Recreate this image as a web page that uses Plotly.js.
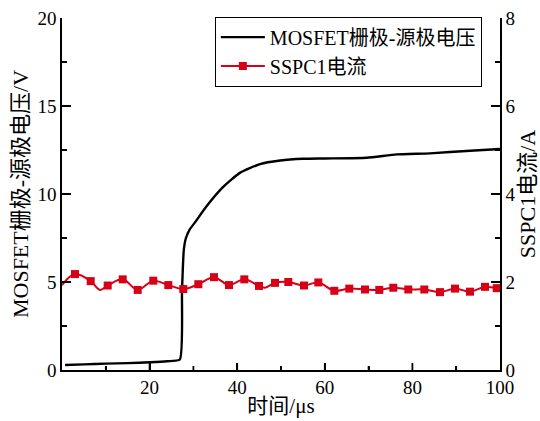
<!DOCTYPE html>
<html>
<head>
<meta charset="utf-8">
<script src="https://cdn.plot.ly/plotly-3.0.1.min.js"></script>
<style>html,body{margin:0;padding:0;background:#fff}#chart{width:540px;height:421px}</style>
</head>
<body>
<div id="chart"></div>
<script>
// Gate-source voltage (V)
const vgsTime = [0.7, 5, 10, 15, 20.1, 24, 26.9, 27.4, 27.8, 28.3, 29.2, 30.4, 33.0, 36.8, 40.6, 45.2, 49.8, 55, 60, 69.6, 76.4, 84, 93.2, 100];
const vgsValue = [0.28, 0.32, 0.36, 0.39, 0.44, 0.5, 0.6, 4.5, 6.8, 7.5, 8.0, 8.4, 9.3, 10.4, 11.2, 11.7, 11.9, 12.0, 12.02, 12.06, 12.25, 12.31, 12.46, 12.56];

// SSPC1 current (A) - marker samples
const iMarkTime = [2.97, 6.55, 10.43, 13.86, 17.28, 20.84, 24.27, 27.69, 31.12, 34.70, 38.13, 41.62, 44.98, 48.63, 51.67, 55.25, 58.52, 62.17, 65.59, 69.18, 72.44, 75.64, 79.06, 82.72, 86.30, 89.73, 93.15, 96.58, 99.25];
const iMarkValue = [2.18, 2.02, 1.92, 2.06, 1.82, 2.03, 1.93, 1.84, 1.95, 2.11, 1.93, 2.06, 1.91, 1.98, 2.0, 1.92, 1.99, 1.80, 1.85, 1.83, 1.82, 1.87, 1.83, 1.83, 1.77, 1.85, 1.78, 1.89, 1.86];
// SSPC1 current (A) - curve points (markers plus visible troughs)
const iLineTime = [0, 2.97, 6.55, 8.68, 10.43, 13.86, 17.28, 20.84, 24.27, 27.69, 31.12, 34.70, 38.13, 41.62, 44.98, 46.35, 48.63, 51.67, 55.25, 58.52, 62.17, 65.59, 69.18, 72.44, 75.64, 79.06, 82.72, 86.30, 89.73, 93.15, 96.58, 99.25, 100];
const iLineValue = [1.93, 2.18, 2.02, 1.82, 1.92, 2.06, 1.82, 2.03, 1.93, 1.84, 1.95, 2.11, 1.93, 2.06, 1.91, 1.87, 1.98, 2.0, 1.92, 1.99, 1.80, 1.85, 1.83, 1.82, 1.87, 1.83, 1.83, 1.77, 1.85, 1.78, 1.89, 1.86, 1.87];

// x-axis tick positions; the shared corner "0" is shown once (by the left axis)
const xMajorTicks = [20, 40, 60, 80];
const xMinorTicks = [10, 30, 50, 70, 90];
const xLabelAlias = {'0': ' '};

const seriesNames = ['MOSFET栅极-源极电压', 'SSPC1电流'];
const RED = 'rgb(216,0,22)';
const FONT = 'Liberation Serif, "Noto Sans CJK SC", serif';
const FS = 19;

const traces = [
  {x: vgsTime, y: vgsValue, mode: 'lines', name: seriesNames[0], line: {color: '#000', width: 2.4, shape: 'spline', smoothing: 0.5}, yaxis: 'y', hoverinfo: 'skip'},
  {x: iLineTime, y: iLineValue, mode: 'lines', showlegend: false, line: {color: RED, width: 2, shape: 'spline', smoothing: 1}, yaxis: 'y2'},
  {x: iMarkTime, y: iMarkValue, mode: 'markers', showlegend: false, marker: {color: RED, symbol: 'square', size: 8}, yaxis: 'y2'},
  {x: [null], y: [null], mode: 'lines+markers', name: seriesNames[1], line: {color: RED, width: 2}, marker: {color: RED, symbol: 'square', size: 8}, yaxis: 'y2'}
];

// inward tick marks on the bottom axis, placed by the x scale
function tickShape(v, len) {
  return {type: 'line', xref: 'x', yref: 'paper', ysizemode: 'pixel', yanchor: 0,
          x0: v, x1: v, y0: 0, y1: len, line: {color: '#000', width: 1.8}, layer: 'above'};
}
const shapes = xMajorTicks.map(v => tickShape(v, 7)).concat(xMinorTicks.map(v => tickShape(v, 4)));

const axisCommon = {
  showgrid: false, zeroline: false, showline: true, linecolor: '#000', linewidth: 1.6,
  ticks: 'inside', ticklen: 9, tickwidth: 1.8, tickcolor: '#000',
  tickfont: {family: FONT, size: FS, color: '#000'}
};
const minorCommon = {ticks: 'inside', ticklen: 5, tickwidth: 1.8, tickcolor: '#000'};

const layout = {
  width: 540, height: 421,
  margin: {l: 62, r: 40, t: 18, b: 51},
  paper_bgcolor: '#fff', plot_bgcolor: '#fff',
  font: {family: FONT, color: '#000'},
  shapes: shapes,
  xaxis: Object.assign({}, axisCommon, {
    range: [0, 100], tick0: 0, dtick: 20, labelalias: xLabelAlias,
    ticklen: 7,
    minor: Object.assign({dtick: 10, tick0: 0}, minorCommon, {ticklen: 4}),
    title: {text: '时间/μs', font: {family: FONT, size: 21}, standoff: 1}
  }),
  yaxis: Object.assign({}, axisCommon, {
    range: [0, 20], dtick: 5,
    minor: Object.assign({dtick: 2.5, tick0: 0}, minorCommon),
    title: {text: 'MOSFET栅极-源极电压/V', font: {family: FONT, size: 22}, standoff: 3}
  }),
  yaxis2: Object.assign({}, axisCommon, {
    range: [0, 8], dtick: 2, overlaying: 'y', side: 'right',
    minor: Object.assign({dtick: 1, tick0: 0}, minorCommon),
    title: {text: 'SSPC1电流/A', font: {family: FONT, size: 22}, standoff: 2}
  }),
  legend: {
    x: 0.349, y: 1.004, xanchor: 'left', yanchor: 'top',
    bgcolor: '#fff', bordercolor: '#000', borderwidth: 1,
    font: {family: FONT, size: 20, color: '#000'},
    tracegroupgap: 0, itemwidth: 44
  },
  showlegend: true
};

Plotly.newPlot('chart', traces, layout, {staticPlot: true, displayModeBar: false});
</script>
</body>
</html>
